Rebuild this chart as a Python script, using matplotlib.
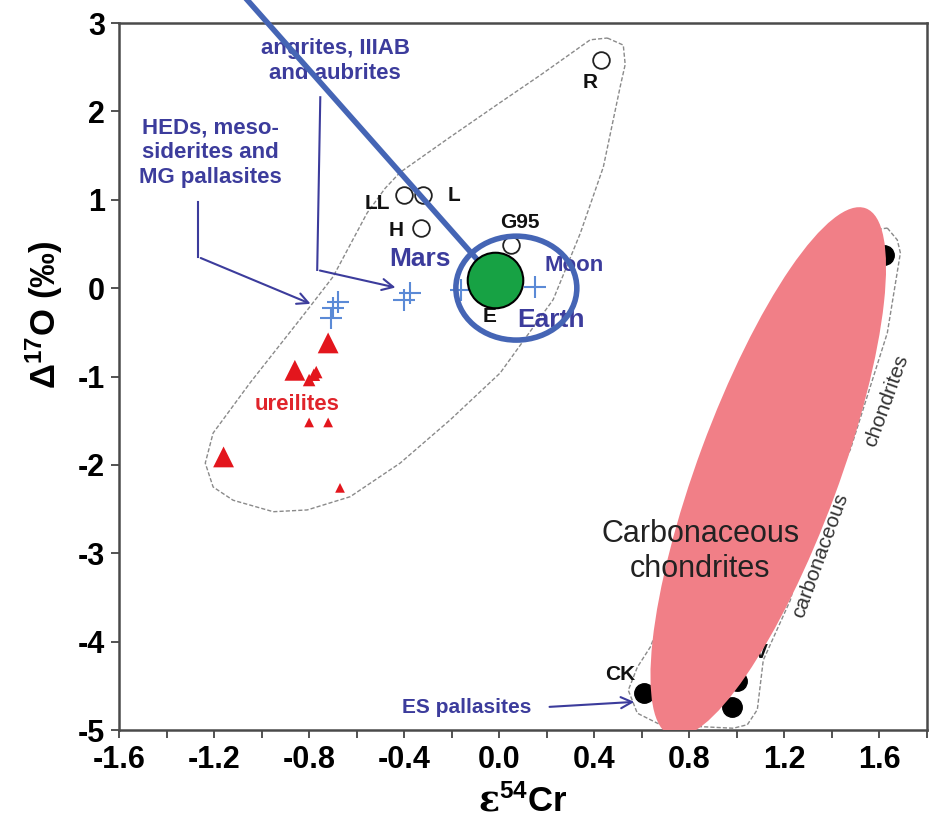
import matplotlib
matplotlib.use('agg')
import matplotlib.pyplot as plt
from matplotlib.patches import Ellipse, Polygon
from matplotlib.transforms import ScaledTranslation
from matplotlib.ticker import MultipleLocator, FormatStrFormatter

plt.rcParams['font.family'] = ['Liberation Sans', 'DejaVu Sans']
plt.rcParams['font.weight'] = 'bold'
plt.rcParams['axes.unicode_minus'] = False
plt.rcParams['mathtext.fontset'] = 'custom'
plt.rcParams['mathtext.rm'] = 'Liberation Sans:bold'
plt.rcParams['mathtext.it'] = 'Liberation Sans:bold'
plt.rcParams['mathtext.bf'] = 'Liberation Sans:bold'
plt.rcParams['mathtext.sf'] = 'DejaVu Serif'

# ordinary, R and G95 chondrites (open circles)
oc_names = ['LL', 'L', 'H', 'G95', 'R']
oc_cr = [-0.40, -0.32, -0.33, 0.05, 0.43]
oc_o = [1.05, 1.05, 0.68, 0.49, 2.58]

# carbonaceous chondrites (filled circles)
cc_cr = [0.61, 1.00, 0.98, 1.62]
cc_o = [-4.58, -4.45, -4.74, 0.38]

# ureilites (triangles), big / medium / small
ure_cr = [-0.72, -0.86, -1.16, -0.78, -0.77, -0.80, -0.80, -0.72, -0.67]
ure_o = [-0.62, -0.93, -1.91, -0.98, -0.95, -1.04, -1.52, -1.52, -2.26]
ure_size = [15, 15, 15, 9, 9, 9, 7, 7, 7]

# achondrites and planets (crosses)
hed_cr = [-0.70, -0.71, -0.68]
hed_o = [-0.22, -0.34, -0.16]
ang_cr = [-0.375, -0.40]
ang_o = [-0.05, -0.13]
planet_names = ['Mars', 'Earth', 'Moon']
planet_cr = [-0.16, 0.0, 0.15]
planet_o = [-0.02, 0.0, 0.01]

# field outlines
ncc_field_cr = [0.455, 0.522, 0.530, 0.509, 0.438, 0.341, 0.227, 0.004, -0.206, -0.417, -0.627, -0.808,
                -0.951, -1.120, -1.204, -1.237, -1.204, -1.048, -0.808, -0.699, -0.556, -0.480, -0.417,
                -0.206, 0.004, 0.173, 0.383]
ncc_field_o = [2.83, 2.75, 2.53, 2.28, 1.37, 0.62, -0.13, -0.96, -1.49, -1.98, -2.36, -2.51,
               -2.53, -2.40, -2.25, -1.98, -1.64, -1.07, -0.25, 0.13, 0.85, 1.13, 1.31,
               1.71, 2.10, 2.41, 2.81]
cc_field_cr = [1.633, 1.675, 1.688, 1.633, 1.477, 1.296, 1.225, 1.111, 1.086, 1.044, 0.985, 0.678,
               0.581, 0.543, 0.581, 0.636, 0.846, 1.183, 1.519, 1.583]
cc_field_o = [0.68, 0.545, 0.398, -0.507, -1.83, -2.77, -3.53, -4.21, -4.77, -4.94, -4.98, -4.94,
              -4.81, -4.55, -4.29, -4.06, -2.62, -1.04, 0.43, 0.66]

# highlighted spots
earth_cr, earth_o = -0.017, 0.093
cc_blob_cr, cc_blob_o = 1.132, -2.079

blue_txt = '#3c3c9c'
cross_col = '#5b8ad6'

fig = plt.figure(figsize=(9.35, 8.3), dpi=100)
ax = fig.add_axes([119 / 935, 100 / 830, 808 / 935, 707 / 830])
ax.set_xlim(-1.6, 1.8)
ax.set_ylim(-5, 3)

ax.add_patch(Polygon(list(zip(ncc_field_cr, ncc_field_o)), closed=True, fill=False,
                     edgecolor='#8a8a8a', lw=1, ls=(0, (3, 1.5)), joinstyle='round', zorder=1))
ax.add_patch(Polygon(list(zip(cc_field_cr, cc_field_o)), closed=True, fill=False,
                     edgecolor='#8a8a8a', lw=1, ls=(0, (3, 1.5)), joinstyle='round', zorder=1))

ax.plot(oc_cr, oc_o, 'o', ms=12, mfc='white', mec='#222222', mew=1.3, zorder=3)
ax.plot(cc_cr, cc_o, 'o', ms=14, color='black', zorder=3)
ax.scatter(ure_cr, ure_o, s=[v ** 2 for v in ure_size], marker='^', color='#e3161d', lw=0, zorder=3)
ax.plot(hed_cr, hed_o, '+', ms=16, mew=1.5, color=cross_col, zorder=3)
ax.plot(ang_cr, ang_o, '+', ms=16, mew=1.5, color=cross_col, zorder=3)
ax.plot(planet_cr, planet_o, '+', ms=16, mew=1.5, color=cross_col, zorder=3)

# point labels
oc_off = [(-19, -6), (22, 0), (-18, -2), (6, 16), (-8, -16)]
for name, x, y, off in zip(oc_names, oc_cr, oc_o, oc_off):
    ax.annotate(name, (x, y), xytext=off, textcoords='offset points', ha='center', va='center',
                fontsize=15, color='#111111', zorder=4)
ax.annotate('E', (earth_cr, earth_o), xytext=(-4, -26), textcoords='offset points', ha='center',
            va='center', fontsize=15, color='#111111', zorder=4)
ax.annotate('CK', (cc_cr[0], cc_o[0]), xytext=(-17, 13), textcoords='offset points', ha='center',
            va='center', fontsize=15, color='#111111', zorder=4)
ax.annotate('V', (cc_cr[1], cc_o[1]), xytext=(17, 21), textcoords='offset points', ha='center',
            va='center', fontsize=15, color='#111111', zorder=4)
planet_off = [(-30, 22), (37, -23), (28, 16)]
planet_fs = [19, 19, 16]
for name, x, y, off, fs in zip(planet_names, planet_cr, planet_o, planet_off, planet_fs):
    ax.annotate(name, (x, y), xytext=off, textcoords='offset points', ha='center', va='center',
                fontsize=fs, color=blue_txt, zorder=4)
ax.text(-0.85, -1.32, 'ureilites', ha='center', va='center', fontsize=16, color='#e0242b', zorder=4)

ax.text(-0.69, 2.57, 'angrites, IIIAB\nand aubrites', ha='center', va='center', fontsize=16,
        color=blue_txt, linespacing=1.25, zorder=4)
ax.text(-1.216, 1.53, 'HEDs, meso-\nsiderites and\nMG pallasites', ha='center', va='center',
        fontsize=16, color=blue_txt, linespacing=1.25, zorder=4)
ax.text(-0.139, -4.75, 'ES pallasites', ha='center', va='center', fontsize=15, color=blue_txt, zorder=4)

# leader arrows
ax.plot([-1.267, -1.267], [0.975, 0.353], color=blue_txt, lw=1.5, zorder=2)
ax.annotate('', xy=(-0.783, -0.19), xytext=(-1.267, 0.353),
            arrowprops=dict(arrowstyle='->', color=blue_txt, lw=1.5, mutation_scale=20), zorder=2)
ax.plot([-0.753, -0.766], [2.16, 0.206], color=blue_txt, lw=1.5, zorder=2)
ax.annotate('', xy=(-0.425, 0.0), xytext=(-0.766, 0.206),
            arrowprops=dict(arrowstyle='->', color=blue_txt, lw=1.5, mutation_scale=20), zorder=2)
ax.annotate('', xy=(0.58, -4.68), xytext=(0.20, -4.74),
            arrowprops=dict(arrowstyle='->', color=blue_txt, lw=1.5, mutation_scale=20), zorder=2)

ax.text(1.35, -3.02, 'carbonaceous', rotation=70, ha='center', va='center', fontsize=15,
        fontweight='normal', color='#333333', zorder=2)
ax.text(1.63, -1.28, 'chondrites', rotation=70, ha='center', va='center', fontsize=15,
        fontweight='normal', color='#333333', zorder=2)

# overlay highlights
ax.add_patch(Ellipse((0, 0), 5.62, 1.41, angle=69.7, facecolor='#f17f87', edgecolor='none', zorder=5,
                     transform=fig.dpi_scale_trans + ScaledTranslation(cc_blob_cr, cc_blob_o, ax.transData)))
ax.text(0.846, -2.98, 'Carbonaceous\nchondrites', ha='center', va='center', fontsize=22,
        fontweight='normal', color='#222222', linespacing=1.25, zorder=6)

ax.plot([-1.06, earth_cr], [3.26, earth_o], color='#4565b5', lw=4, clip_on=False, zorder=6)
ax.add_patch(Ellipse((0.072, 0.0), 0.509, 1.176, fill=False, edgecolor='#4565b5', lw=4, zorder=7))
ax.plot(earth_cr, earth_o, 'o', ms=40, mfc='#17a244', mec='black', mew=1.5, zorder=8)

ax.xaxis.set_major_locator(MultipleLocator(0.4))
ax.xaxis.set_minor_locator(MultipleLocator(0.2))
ax.xaxis.set_major_formatter(FormatStrFormatter('%.1f'))
ax.yaxis.set_major_locator(MultipleLocator(1))
ax.tick_params(which='both', direction='out', length=6, width=1.3, color='#444444', labelsize=22)
ax.tick_params(axis='x', pad=5)
ax.tick_params(axis='y', pad=4)
for s in ax.spines.values():
    s.set_linewidth(1.8)
    s.set_color('#4a4a4a')

ax.set_xlabel(r'$\mathsf{\varepsilon}^{54}\mathrm{Cr}$', fontsize=25, labelpad=6)
ax.text(-0.093, 0.587, r'$\Delta^{17}$O (‰)', rotation=90, ha='center', va='center',
        fontsize=25, transform=ax.transAxes)

fig.savefig('out.png', dpi=100)
